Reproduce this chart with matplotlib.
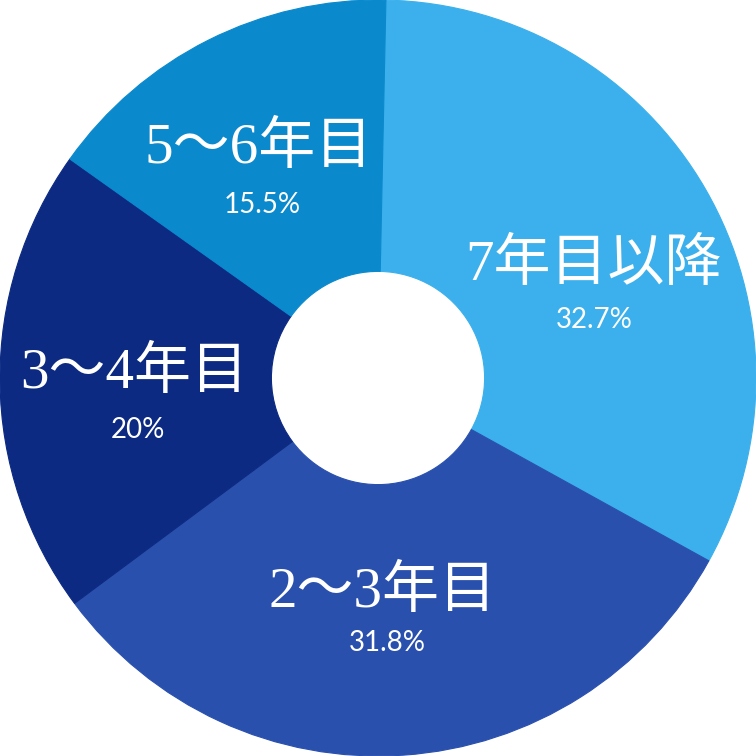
import matplotlib
matplotlib.use("Agg")
import matplotlib.pyplot as plt

categories = ["7年目以降", "2～3年目", "3～4年目", "5～6年目"]
values = [32.7, 31.8, 20.0, 15.5]
pct_labels = ["32.7%", "31.8%", "20%", "15.5%"]
colors = ["#3BB0EC", "#2A50AE", "#0C2A82", "#0A89CD"]

# text layout (axes data coords, outer radius = 1)
name_pos = [(0.569, 0.297), (0.013, -0.566), (-0.645, 0.011), (-0.317, 0.606)]
pct_pos = [(0.572, 0.153), (0.024, -0.701), (-0.635, -0.138), (-0.307, 0.458)]

fig = plt.figure(figsize=(7.56, 7.56), dpi=100)
ax = fig.add_axes([0, 0, 1, 1])
wedges, _ = ax.pie(values, colors=colors, startangle=88.8, counterclock=False,
                   radius=1.0, wedgeprops=dict(width=1.0 - 0.282, linewidth=0.8))
for w, c in zip(wedges, colors):
    w.set_edgecolor(c)
ax.set_xlim(-1, 1)
ax.set_ylim(-1, 1)
ax.set_aspect("equal")
ax.axis("off")

for name, pct, (nx, ny), (px, py) in zip(categories, pct_labels, name_pos, pct_pos):
    ax.text(nx, ny, name, ha="center", va="center", color="white", fontsize=41,
            family=["Liberation Serif", "Noto Sans CJK JP"])
    ax.text(px, py, pct, ha="center", va="center", color="white", fontsize=20,
            family=["Lato", "DejaVu Sans"])

fig.savefig("out.png", dpi=100, facecolor="white")
